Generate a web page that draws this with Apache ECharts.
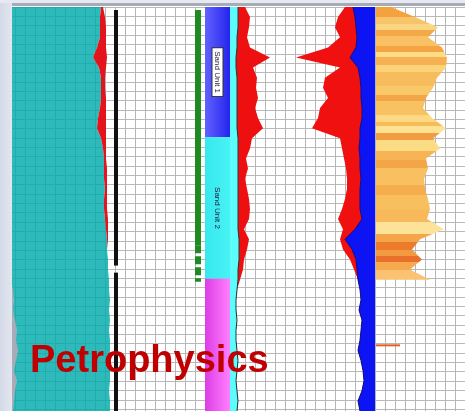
<!DOCTYPE html>
<html>
<head>
<meta charset="utf-8">
<title>Petrophysics</title>
<script src="https://cdn.jsdelivr.net/npm/echarts@6/dist/echarts.min.js"></script>
<style>
  html, body { margin: 0; padding: 0; background: #fff; }
  #chart { width: 465px; height: 411px; }
</style>
</head>
<body>
<div id="chart"></div>
<script>
// depth samples (ft), top to bottom
var DEPTH = [5000, 5010, 5020, 5030, 5040, 5050, 5060, 5070, 5080, 5090,
  5100, 5110, 5120, 5130, 5140, 5150, 5160, 5170, 5180, 5190,
  5200, 5210, 5220, 5230, 5240, 5250, 5260, 5270, 5280, 5290,
  5300, 5310, 5320, 5330, 5340, 5350, 5360, 5370, 5380, 5390, 5400];

// track 1 : bulk volume (teal) and its red edge, pinkish washout on the left
var TEAL_EDGE = [96, 95, 95, 95, 92, 88, 94, 96, 96, 96, 95, 93, 92, 96, 98, 99, 99, 99, 100, 99,
  99, 100, 101, 102, 102, 103, 103, 104, 104, 105, 104, 105, 104, 105, 105, 104, 105, 105, 104, 105, 105];
var RED1_EDGE = [98, 100, 101, 101, 101, 102, 101, 100, 100, 101, 101, 101, 101, 101, 101, 101, 102, 102, 102, 102,
  102, 103, 103, 103, 102, 103, 103, 104, 104, 105, 104, 105, 104, 105, 105, 104, 105, 105, 104, 105, 105];
var TEAL_LEFT = [6, 6, 6, 6, 6, 6, 6, 6, 6, 6, 6, 6, 6, 6, 6, 6, 6, 6, 6, 6,
  6, 6, 6, 6, 6, 6, 6, 6, 8, 9, 8, 10, 12, 11, 13, 11, 9, 12, 10, 9, 8];

// casing line and flag bar (depth segments)
var BLACK_TOP = [5003, 5263];
var BLACK_BASE = [5256, 5400];
var GREEN_SOLID = [5003, 5236];
var GREEN_DASHED = [5236, 5272];

// zonation
var ZONE_TOP = [5000, 5129, 5269];
var ZONE_BASE = [5129, 5269, 5400];
var ZONE_NAME = ['Sand Unit 1', 'Sand Unit 2', ''];
var ZONE_COLOR_L = ['#6262ff', '#36e8ee', '#dc3ee4'];
var ZONE_COLOR_R = ['#2424ee', '#48f2f4', '#ff80ff'];

// track 4 : cyan base and red curve
var CYAN_EDGE = [8, 8, 8, 7, 7, 6, 6, 7, 7, 7, 7, 7, 7, 8, 8, 8, 8, 8, 8, 8,
  8, 8, 8, 9, 9, 9, 8, 8, 7, 6, 6, 7, 6, 6, 7, 8, 7, 6, 7, 8, 7];
var RED2_EDGE = [15, 20, 19, 17, 20, 40, 23, 27, 26, 28, 25, 28, 33, 22, 20, 16, 18, 15, 17, 19,
  20, 19, 14, 19, 17, 14, 13, 10, 7, 6, 6, 7, 6, 6, 7, 8, 7, 6, 7, 8, 7];

// track 5 : measured from the right edge
var BLUE_EDGE = [22, 20, 19, 18, 19, 25, 17, 15, 14, 14, 13, 13, 15, 15, 16, 15, 15, 14, 15, 15,
  15, 13, 20, 30, 23, 19, 18, 17, 15, 14, 16, 13, 14, 15, 17, 14, 12, 11, 13, 17, 15];
var RED3_EDGE = [30, 37, 40, 35, 47, 79, 35, 50, 52, 47, 55, 57, 63, 35, 33, 31, 29, 28, 28, 30,
  33, 37, 32, 35, 32, 25, 21, 17, 15, 14, 16, 13, 14, 15, 17, 14, 12, 11, 13, 17, 15];

// track 6 : orange striped fill
var ORANGE_EDGE = [15, 39, 62, 52, 66, 71, 70, 61, 57, 50, 47, 56, 70, 57, 64, 50, 52, 48, 49, 52,
  54, 51, 68, 44, 36, 46, 34, 54, null, null, null, null, null, null, null, null, null, null, null, null, null];
var ORANGE_BAND_TOP = [5000, 5010, 5017, 5023, 5029, 5039, 5045, 5050, 5057, 5064, 5078, 5087, 5093,
  5107, 5114, 5118, 5125, 5132, 5143, 5151, 5159, 5176, 5186, 5201, 5213, 5225, 5233, 5241, 5247, 5252, 5260];
var ORANGE_BAND_COLOR = ['#f3a23e', '#f8c46a', '#fbd682', '#f5a847', '#f9c163', '#f4a443', '#fcdc86', '#f6b252',
  '#fbd47a', '#f7bd5c', '#f9c869', '#f3a648', '#f8c263', '#fcd982', '#f7bb5a', '#fde294', '#f19c3e', '#fcdb85',
  '#f6b455', '#f3a648', '#f8c061', '#f5ad4e', '#f8bf5f', '#f7b95a', '#fde39a', '#f4a548', '#ec7b2c', '#f29a40',
  '#e8702a', '#f5aa50', '#fbc272'];
var ORANGE_TICK_DEPTH = 5335;
var ORANGE_TICK_LEN = 24;

var chart = echarts.init(document.getElementById('chart'));

function g(left, width) {
  return { left: left, width: width, top: 7, bottom: 0 };
}
function hx(i, min, max, inv) {
  return { type: 'value', gridIndex: i, min: min, max: max, inverse: !!inv, show: false };
}
function catY(i) {
  return { type: 'category', gridIndex: i, data: DEPTH, boundaryGap: false, inverse: true, show: false };
}
function valY(i) {
  return { type: 'value', gridIndex: i, min: 5000, max: 5400, inverse: true, show: false };
}
function lineAxis(i, max, color) {
  return {
    type: 'value', gridIndex: i, min: 0, max: max, interval: 1,
    axisLine: { show: false }, axisTick: { show: false }, axisLabel: { show: false },
    splitLine: { show: true, lineStyle: { color: color, width: 1 } }
  };
}
function fill(xi, data, color, opacity, lineColor, stack) {
  return {
    type: 'line', xAxisIndex: xi, yAxisIndex: xi, data: data, stack: stack,
    showSymbol: false, silent: true, connectNulls: false,
    lineStyle: lineColor ? { color: lineColor, width: 1 } : { width: 0 },
    areaStyle: { color: color, opacity: opacity == null ? 1 : opacity }
  };
}
function seg(xi, x, top, base, color, width, type) {
  return {
    type: 'line', xAxisIndex: xi, yAxisIndex: xi, showSymbol: false, silent: true,
    data: [[x, top], [x, base]],
    lineStyle: { color: color, width: width, type: type || 'solid', cap: 'butt' }
  };
}

// striped orange gradient, stops taken from the band list
var lastOrange = 0;
ORANGE_EDGE.forEach(function (v, i) { if (v != null) lastOrange = DEPTH[i]; });
var orangeStops = [];
ORANGE_BAND_TOP.forEach(function (d, k) {
  var s = (d - DEPTH[0]) / (lastOrange - DEPTH[0]);
  var e = k + 1 < ORANGE_BAND_TOP.length ? (ORANGE_BAND_TOP[k + 1] - DEPTH[0]) / (lastOrange - DEPTH[0]) : 1;
  orangeStops.push({ offset: Math.min(s, 1), color: ORANGE_BAND_COLOR[k] });
  orangeStops.push({ offset: Math.min(e, 1), color: ORANGE_BAND_COLOR[k] });
});

var series = [];
// track 1 : teal is see-through so the chart paper shows, red is stacked beyond it
series.push(fill(2, TEAL_EDGE, '#00abab', 0.82, null, 'tr1'));
series.push(fill(2, RED1_EDGE.map(function (v, i) { return v - TEAL_EDGE[i]; }), '#e3141c', 1, null, 'tr1'));
series.push(fill(2, TEAL_LEFT, '#c8a9b9', 0.8));
// casing
BLACK_TOP.forEach(function (t, i) { series.push(seg(3, 4, t, BLACK_BASE[i], '#111', 4)); });
// flag
series.push(seg(4, 8, GREEN_SOLID[0], GREEN_SOLID[1], '#1f8a22', 6));
series.push(seg(4, 8, GREEN_DASHED[0], GREEN_DASHED[1], '#1f8a22', 6, [8, 3]));
// zones
series.push({
  type: 'custom', xAxisIndex: 5, yAxisIndex: 5, silent: true,
  data: ZONE_TOP.map(function (t, i) { return [t, ZONE_BASE[i]]; }),
  encode: { y: [0, 1] },
  renderItem: function (params, api) {
    var i = params.dataIndex;
    var a = api.coord([0, api.value(0)]);
    var b = api.coord([1, api.value(1)]);
    var kids = [{
      type: 'rect',
      shape: { x: a[0], y: a[1], width: b[0] - a[0], height: b[1] - a[1] },
      style: { fill: new echarts.graphic.LinearGradient(0, 0, 1, 0, [
        { offset: 0, color: ZONE_COLOR_L[i] }, { offset: 1, color: ZONE_COLOR_R[i] }]) }
    }];
    if (ZONE_NAME[i]) {
      kids.push({
        type: 'text', x: (a[0] + b[0]) / 2, y: (a[1] + b[1]) / 2, rotation: -Math.PI / 2,
        style: {
          text: ZONE_NAME[i], fill: '#1c1c3c', font: '8px "Liberation Sans"',
          align: 'center', verticalAlign: 'middle',
          backgroundColor: i === 0 ? '#ffffff' : 'transparent',
          borderColor: i === 0 ? '#333' : 'transparent', borderWidth: i === 0 ? 1 : 0,
          padding: [1, 3]
        }
      });
    }
    return { type: 'group', children: kids };
  }
});
// track 4
series.push(fill(6, RED2_EDGE, '#ee1010'));
series.push(fill(6, CYAN_EDGE, '#5cfcfc', 1, '#1d3a3a'));
// track 5
series.push(fill(7, RED3_EDGE, '#f01010'));
series.push(fill(7, BLUE_EDGE, '#0c14f4', 1, '#10108a'));
// track 6
series.push(fill(8, ORANGE_EDGE, new echarts.graphic.LinearGradient(0, 0, 0, 1, orangeStops)));
series.push({
  type: 'line', xAxisIndex: 9, yAxisIndex: 9, showSymbol: false, silent: true,
  data: [[0, ORANGE_TICK_DEPTH], [ORANGE_TICK_LEN, ORANGE_TICK_DEPTH]],
  lineStyle: { color: '#e0601e', width: 2 }
});

var option = {
  animation: false,
  backgroundColor: '#ffffff',
  title: {
    text: 'Petrophysics', left: 30, top: 343, padding: 0,
    textStyle: { color: '#c00000', fontSize: 38, fontWeight: 'bold', fontFamily: '"Liberation Sans", Arial, sans-serif' }
  },
  graphic: [
    { type: 'rect', z: 100, shape: { x: 0, y: 0, width: 12, height: 411 },
      style: { fill: new echarts.graphic.LinearGradient(0, 0, 1, 0, [{ offset: 0, color: '#d3d9e7' }, { offset: 1, color: '#e2e6ef' }]) } },
    { type: 'rect', z: 100, shape: { x: 0, y: 0, width: 465, height: 3 }, style: { fill: '#e6e9f1' } },
    { type: 'rect', z: 100, shape: { x: 12, y: 3, width: 453, height: 3 }, style: { fill: '#a7abb3' } }
  ],
  grid: [g(5, 460), g(5, 115), g(5, 115), g(112, 10), g(190, 15), g(205, 25), g(230, 60), g(290, 85), g(376, 89), g(376, 89)],
  xAxis: [
    lineAxis(0, 46, '#b5b5b5'),
    hx(1, 0, 1),
    hx(2, 0, 115), hx(3, 0, 10), hx(4, 0, 15), hx(5, 0, 1), hx(6, 0, 60), hx(7, 0, 85, true), hx(8, 0, 89), hx(9, 0, 89)
  ],
  yAxis: [
    Object.assign(lineAxis(0, 43.2, '#b9b9b9'), { inverse: true }),
    hx(1, 0, 1),
    catY(2), valY(3), valY(4), valY(5), catY(6), catY(7), catY(8), valY(9)
  ],
  series: series
};
chart.setOption(option);
</script>
</body>
</html>
